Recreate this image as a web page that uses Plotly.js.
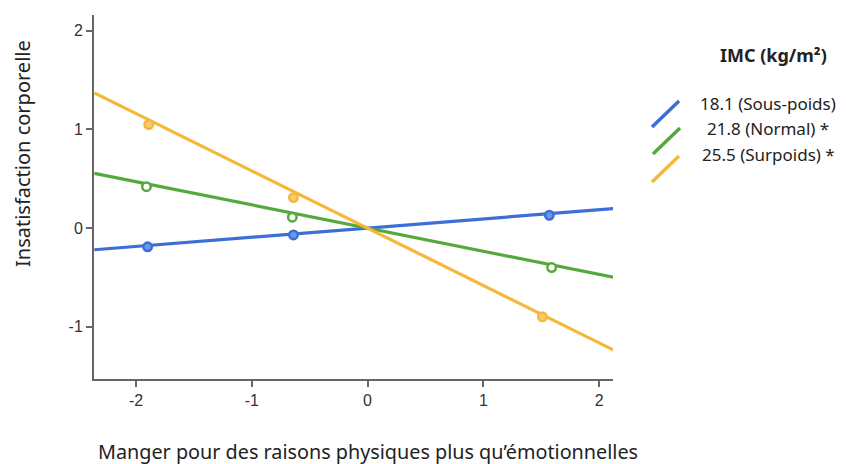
<!DOCTYPE html>
<html>
<head>
<meta charset="utf-8">
<script src="https://cdn.plot.ly/plotly-3.0.1.min.js"></script>
<style>html,body{margin:0;padding:0;background:#fff;}#chart{width:846px;height:464px;}</style>
</head>
<body>
<div id="chart"></div>
<script>
// ---- data ----
const seriesNames = ["18.1 (Sous-poids)", "21.8 (Normal) *", "25.5 (Surpoids) *"];
const seriesColors = ["#3c6fd6", "#55a93c", "#f5b83a"];
const markerFill = ["#6f95e3", "#ffffff", "#f8cc6e"];
const lineX = [-2.36, 2.15];
const blueLineY = [-0.22, 0.20];
const greenLineY = [0.555, -0.505];
const yellowLineY = [1.37, -1.25];
const blueX = [-1.90, -0.64, 1.57];
const blueY = [-0.19, -0.07, 0.13];
const greenX = [-1.91, -0.65, 1.59];
const greenY = [0.42, 0.11, -0.40];
const yellowX = [-1.89, -0.64, 1.51];
const yellowY = [1.05, 0.31, -0.90];
const xTicks = [-2, -1, 0, 1, 2];
const yTicks = [-1, 0, 1, 2];
const legendTitle = "IMC (kg/m²)";
const xTitle = "Manger pour des raisons physiques plus qu’émotionnelles";
const yTitle = "Insatisfaction corporelle";

// ---- layout helpers ----
const W = 846, H = 464;
const M = {l: 94, r: 233, t: 15, b: 85};
const pw = W - M.l - M.r, ph = H - M.t - M.b;
const px2x = p => (p - M.l) / pw;
const py2y = p => (H - M.b - p) / ph;

const lineYs = [blueLineY, greenLineY, yellowLineY];
const ptsX = [blueX, greenX, yellowX];
const ptsY = [blueY, greenY, yellowY];

const traces = [];
for (let i = 0; i < 3; i++) {
  traces.push({
    x: lineX, y: lineYs[i], mode: "lines", type: "scatter",
    line: {color: seriesColors[i], width: 3.2}, showlegend: false, hoverinfo: "skip"
  });
}
for (let i = 0; i < 3; i++) {
  traces.push({
    x: ptsX[i], y: ptsY[i], mode: "markers", type: "scatter",
    marker: {color: markerFill[i], size: 8.5, line: {color: seriesColors[i], width: 2.5}},
    showlegend: false
  });
}

const glyphs = [
  [652, 127, 679, 101],
  [653, 154, 680, 128],
  [652, 182, 679, 156]
];
const textY = [103, 128, 154];

const shapes = glyphs.map((g, i) => ({
  type: "line", xref: "paper", yref: "paper",
  x0: px2x(g[0]), y0: py2y(g[1]), x1: px2x(g[2]), y1: py2y(g[3]),
  line: {color: seriesColors[i], width: 3.5}
}));

const annotations = seriesNames.map((n, i) => ({
  text: n, xref: "paper", yref: "paper", x: px2x(768), y: py2y(textY[i]),
  xanchor: "center", yanchor: "middle", showarrow: false,
  font: {family: "Noto Sans", size: 17, color: "#222"}
}));
annotations.push({
  text: "<b>" + legendTitle + "</b>", xref: "paper", yref: "paper",
  x: px2x(773), y: py2y(55), xanchor: "center", yanchor: "middle", showarrow: false,
  font: {family: "Noto Sans", size: 18, color: "#222"}
});
annotations.push({
  text: xTitle, xref: "paper", yref: "paper",
  x: px2x(368), y: py2y(451), xanchor: "center", yanchor: "middle", showarrow: false,
  font: {family: "Noto Sans", size: 19.8, color: "#222"}
});
annotations.push({
  text: yTitle, xref: "paper", yref: "paper", textangle: -90,
  x: px2x(22), y: py2y(154), xanchor: "center", yanchor: "middle", showarrow: false,
  font: {family: "Noto Sans", size: 20, color: "#222"}
});

const layout = {
  width: W, height: H,
  margin: M,
  paper_bgcolor: "#fff", plot_bgcolor: "#fff",
  showlegend: false,
  xaxis: {
    range: [-2.363, 2.12], tickvals: xTicks, ticktext: xTicks.map(String),
    showgrid: false, zeroline: false, showline: true, linecolor: "#666", linewidth: 2,
    ticks: "outside", ticklen: 6, tickwidth: 2, tickcolor: "#666",
    tickfont: {family: "Liberation Sans", size: 16, color: "#333"}
  },
  yaxis: {
    range: [-1.53, 2.16], tickvals: yTicks, ticktext: yTicks.map(String),
    showgrid: false, zeroline: false, showline: true, linecolor: "#666", linewidth: 2,
    ticks: "outside", ticklen: 6, tickwidth: 2, tickcolor: "#666",
    tickfont: {family: "Liberation Sans", size: 16, color: "#333"}
  },
  shapes: shapes,
  annotations: annotations
};

Plotly.newPlot("chart", traces, layout, {displayModeBar: false, staticPlot: true});
</script>
</body>
</html>
